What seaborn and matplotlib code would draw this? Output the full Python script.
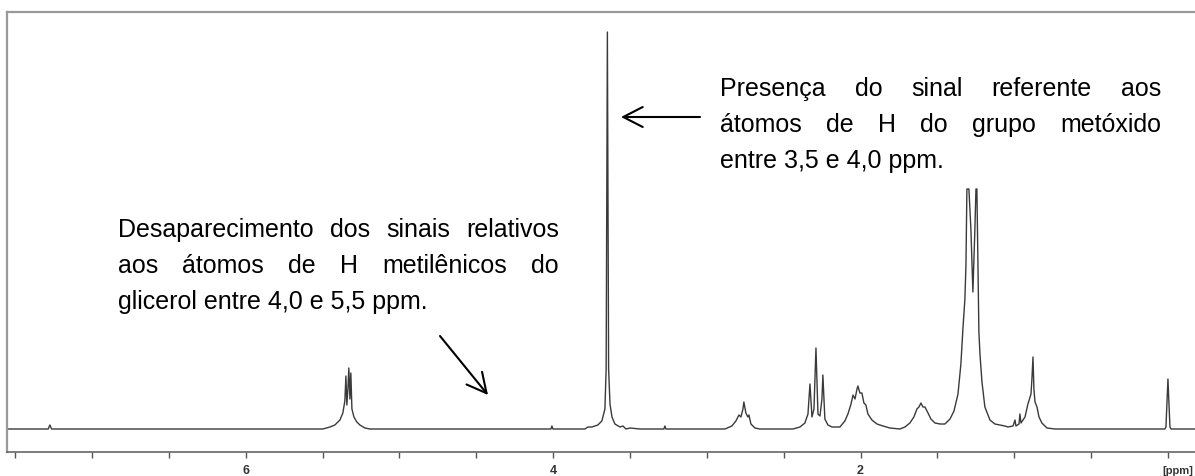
import numpy as np
import pandas as pd
import matplotlib
matplotlib.use("Agg")
import matplotlib.pyplot as plt
import seaborn as sns
from matplotlib.transforms import IdentityTransform

# ---------------- data ----------------
ppm = [7.553, 7.285, 7.274, 7.263,
       5.498, 5.452, 5.420, 5.387, 5.368, 5.355, 5.348, 5.342, 5.335, 5.329,
       5.322, 5.316, 5.309, 5.296, 5.277, 5.257, 5.224, 5.192,
       4.014, 4.008, 4.001,
       3.793, 3.774, 3.748, 3.709, 3.683, 3.663, 3.655, 3.647, 3.639,
       3.630, 3.617, 3.598, 3.565, 3.546, 3.526, 3.500, 3.435,
       3.279, 3.273, 3.266,
       2.882, 2.837, 2.811, 2.791, 2.778, 2.765, 2.759, 2.746, 2.733, 2.726,
       2.713, 2.687, 2.655,
       2.440, 2.394, 2.362, 2.342, 2.329, 2.316, 2.303, 2.290, 2.277, 2.264,
       2.251, 2.245, 2.232, 2.212, 2.186,
       2.134, 2.102, 2.082, 2.062, 2.049, 2.036, 2.023, 2.017, 2.004, 1.991,
       1.978, 1.965, 1.952, 1.926, 1.893, 1.854, 1.809, 1.744,
       1.711, 1.679, 1.653, 1.633, 1.620, 1.607, 1.594, 1.581, 1.561, 1.542,
       1.516, 1.483, 1.451,
       1.418, 1.392, 1.366, 1.347, 1.334, 1.321, 1.314, 1.308, 1.301, 1.295,
       1.282, 1.269, 1.256, 1.249, 1.243, 1.236, 1.230, 1.223, 1.210, 1.191,
       1.158, 1.126, 1.093, 1.061, 1.041,
       1.008, 0.995, 0.989, 0.969, 0.963, 0.956, 0.930, 0.911, 0.891, 0.885,
       0.878, 0.872, 0.865, 0.852, 0.839, 0.820, 0.787, 0.735,
       0.020, 0.013, 0.000, -0.013, -0.020, -0.176]

intensity = [0, 0, 4, 0,
             0, 2, 4, 9, 16, 28, 53, 24, 40, 61,
             30, 56, 20, 12, 7, 4, 1, 0,
             0, 3, 0,
             0, 2, 2, 4, 8, 20, 60, 397, 60,
             25, 12, 5, 2, 3, 0, 1, 0,
             0, 3, 0,
             0, 3, 8, 14, 12, 20, 27, 16, 12, 14,
             5, 1, 0,
             0, 2, 6, 15, 45, 12, 20, 81, 15, 13,
             30, 54, 10, 4, 2,
             2, 8, 15, 25, 34, 30, 40, 43, 36, 36,
             26, 24, 15, 9, 5, 3, 1, 0,
             2, 6, 12, 20, 22, 26, 22, 22, 16, 10,
             6, 5, 5,
             10, 18, 35, 65, 100, 130, 165, 240, 240, 240,
             200, 137, 200, 240, 240, 160, 97, 75, 47, 22,
             9, 5, 4, 3, 2,
             3, 9, 3, 5, 15, 6, 12, 25, 35, 50,
             72, 40, 27, 22, 12, 6, 1, 0,
             0, 2, 50, 2, 0, 0]

tick_values = [0, 0.5, 1, 1.5, 2, 2.5, 3, 3.5, 4, 4.5, 5, 5.5, 6, 6.5, 7, 7.5]
tick_labels = ["", "", "", "", "2", "", "", "", "4", "", "", "", "6", "", "", ""]

left_note = [("Desaparecimento dos sinais relativos", True),
             ("aos átomos de H metilênicos do", True),
             ("glicerol entre 4,0 e 5,5 ppm.", False)]
right_note = [("Presença do sinal referente aos", True),
              ("átomos de H do grupo metóxido", True),
              ("entre 3,5 e 4,0 ppm.", False)]

# ---------------- figure ----------------
sns.set_style("white")
plt.rcParams["font.family"] = ["Liberation Sans", "DejaVu Sans"]

W, H = 1195, 477
fig = plt.figure(figsize=(W / 100, H / 100), dpi=100)
fig.patch.set_facecolor("white")
ax = fig.add_axes([7 / W, (H - 453) / H, (W - 7) / W, (453 - 13) / H])

df = pd.DataFrame({"ppm": ppm, "intensity": intensity})
sns.lineplot(data=df, x="ppm", y="intensity", ax=ax, color="#3a3a3a",
             lw=1.0, estimator=None, sort=False)

ax.set_xlim(7.553, -0.176)
ax.set_ylim(-23, 417)
ax.set_xlabel("")
ax.set_ylabel("")
ax.set_yticks([])
ax.set_xticks(tick_values)
ax.set_xticklabels(tick_labels)
ax.tick_params(axis="x", bottom=True, direction="out", length=4, width=1,
               color="#555555", labelsize=9, pad=5, labelcolor="#333333")
for lbl in ax.get_xticklabels():
    lbl.set_fontweight("bold")

for side in ["top", "left"]:
    ax.spines[side].set_color("#9a9a9a")
    ax.spines[side].set_linewidth(1.6)
ax.spines["bottom"].set_color("#666666")
ax.spines["bottom"].set_linewidth(1.2)
ax.spines["right"].set_visible(False)

fig.text(1193, H - 471, "[ppm]", transform=IdentityTransform(), fontsize=8,
         fontweight="bold", va="center", ha="right", color="#333333")

# ---------------- justified annotation text ----------------
renderer = fig.canvas.get_renderer()
FS = 18


def place_block(lines, x0, x1, baselines):
    for (line, justify), yb in zip(lines, baselines):
        y = H - yb
        if not justify:
            fig.text(x0, y, line, transform=IdentityTransform(), fontsize=FS,
                     ha="left", va="baseline", color="black")
            continue
        words = line.split(" ")
        texts = [fig.text(0, y, w, transform=IdentityTransform(), fontsize=FS,
                          ha="left", va="baseline", color="black") for w in words]
        widths = [t.get_window_extent(renderer).width for t in texts]
        gap = (x1 - x0 - sum(widths)) / (len(words) - 1)
        x = x0
        for t, w in zip(texts, widths):
            t.set_x(x)
            x += w + gap


place_block(left_note, 118, 559, [237, 273, 309])
place_block(right_note, 720, 1161, [96, 132, 168])

# ---------------- arrows ----------------
astyle = "->,head_length=0.7,head_width=0.36"
ax.annotate("", xy=(621, H - 118), xytext=(700, H - 118),
            xycoords="figure pixels", textcoords="figure pixels",
            arrowprops=dict(arrowstyle=astyle, lw=1.5, color="black",
                            mutation_scale=20, shrinkA=0, shrinkB=0))
ax.annotate("", xy=(488, H - 396), xytext=(440, H - 337),
            xycoords="figure pixels", textcoords="figure pixels",
            arrowprops=dict(arrowstyle=astyle, lw=1.5, color="black",
                            mutation_scale=20, shrinkA=0, shrinkB=0))

fig.savefig("out.png", dpi=100, facecolor="white")
